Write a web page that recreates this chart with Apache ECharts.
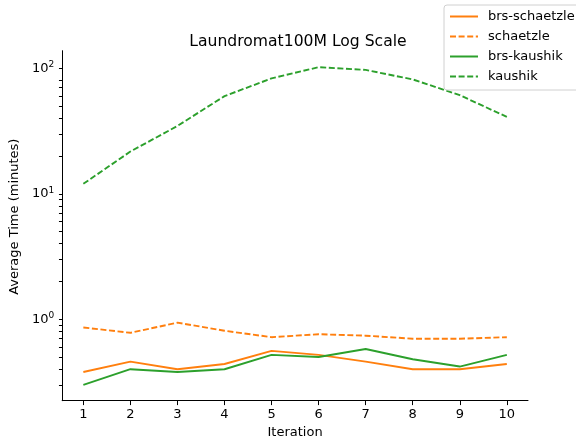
<!DOCTYPE html>
<html>
<head>
<meta charset="utf-8">
<script src="https://cdn.jsdelivr.net/npm/echarts@6/dist/echarts.min.js"></script>
<style>
  html, body { margin: 0; padding: 0; background: #fff; }
  #chart { width: 576px; height: 446px; }
</style>
</head>
<body>
<div id="chart"></div>
<script>
// iterations on the x axis
var iterations = [1, 2, 3, 4, 5, 6, 7, 8, 9, 10];

// average time in minutes
var brsSchaetzle = [0.38, 0.46, 0.40, 0.44, 0.56, 0.52, 0.46, 0.40, 0.40, 0.44];
var schaetzle    = [0.86, 0.78, 0.94, 0.81, 0.72, 0.76, 0.74, 0.70, 0.70, 0.72];
var brsKaushik   = [0.30, 0.40, 0.38, 0.40, 0.52, 0.50, 0.58, 0.48, 0.42, 0.52];
var kaushik      = [12.0, 21.7, 34.7, 60.0, 83.0, 102, 97, 81.5, 61, 41];

// tick positions
var majorTicks = [1, 10, 100];
var minorTicks = [0.3, 0.4, 0.5, 0.6, 0.7, 0.8, 0.9,
                  2, 3, 4, 5, 6, 7, 8, 9,
                  20, 30, 40, 50, 60, 70, 80, 90];
var allTicks = minorTicks.concat(majorTicks).sort(function (a, b) { return a - b; });

var ORANGE = '#ff7f0e', GREEN = '#2ca02c';
var FONT = 'DejaVu Sans';

function pairs(vals) {
  return iterations.map(function (x, i) { return [x, vals[i]]; });
}

function line(name, vals, color, dashed) {
  return {
    name: name,
    type: 'line',
    data: pairs(vals),
    symbol: 'none',
    showSymbol: false,
    animation: false,
    lineStyle: { color: color, width: 1.9, type: dashed ? [6, 2.6] : 'solid' },
    itemStyle: { color: color }
  };
}

function isMajor(v) {
  var e = Math.log10(v);
  return Math.abs(e - Math.round(e)) < 1e-6;
}

var chart = echarts.init(document.getElementById('chart'));

chart.setOption({
  animation: false,
  title: {
    text: 'Laundromat100M Log Scale',
    left: 293, top: 29, textAlign: 'center',
    textStyle: { fontFamily: FONT, fontSize: 15.6, fontWeight: 'normal', color: '#000' }
  },
  legend: {
    orient: 'vertical',
    left: 444, top: 5,
    padding: [5, 10, 7, 5],
    itemWidth: 28, itemHeight: 12, itemGap: 7,
    backgroundColor: 'rgba(255,255,255,0.8)',
    borderColor: '#d0d0d0', borderWidth: 1, borderRadius: 3,
    itemStyle: { opacity: 0 },
    textStyle: { fontFamily: FONT, fontSize: 13, color: '#000', padding: [0, 0, 0, 5] },
    data: ['brs-schaetzle', 'schaetzle', 'brs-kaushik', 'kaushik']
  },
  grid: { left: 59, right: 48, top: 50.7, bottom: 45.3, containLabel: false },
  xAxis: {
    type: 'value',
    min: 0.55, max: 10.45,
    name: 'Iteration', nameLocation: 'middle', nameGap: 25,
    nameTextStyle: { fontFamily: FONT, fontSize: 13, color: '#000' },
    axisLine: { show: true, lineStyle: { color: '#000', width: 1 } },
    axisTick: { show: true, inside: false, length: 4.4, lineStyle: { color: '#000' }, customValues: iterations },
    axisLabel: { fontFamily: FONT, fontSize: 13, color: '#000', margin: 7, customValues: iterations },
    splitLine: { show: false }
  },
  yAxis: {
    type: 'log', logBase: 10,
    min: 0.2245, max: 138,
    name: 'Average Time (minutes)', nameLocation: 'middle', nameGap: 36,
    nameTextStyle: { fontFamily: FONT, fontSize: 13, color: '#000', padding: [0, 0, 0, 18] },
    axisLine: { show: true, lineStyle: { color: '#000', width: 1 } },
    axisTick: { show: true, inside: false, length: 3.2, lineStyle: { color: '#000' }, customValues: allTicks },
    axisLabel: {
      margin: 8, customValues: allTicks, hideOverlap: false,
      showMinLabel: true, showMaxLabel: true,
      formatter: function (v) {
        if (!isMajor(v)) return ' ';
        return '{b|10}{s|' + Math.round(Math.log10(v)) + '}';
      },
      rich: {
        b: { fontFamily: FONT, fontSize: 13, color: '#000' },
        s: { fontFamily: FONT, fontSize: 9, color: '#000', padding: [0, 0, 7, 0] }
      }
    },
    splitLine: { show: false }
  },
  series: [
    line('brs-schaetzle', brsSchaetzle, ORANGE, false),
    line('schaetzle', schaetzle, ORANGE, true),
    line('brs-kaushik', brsKaushik, GREEN, false),
    line('kaushik', kaushik, GREEN, true)
  ]
});
</script>
</body>
</html>
